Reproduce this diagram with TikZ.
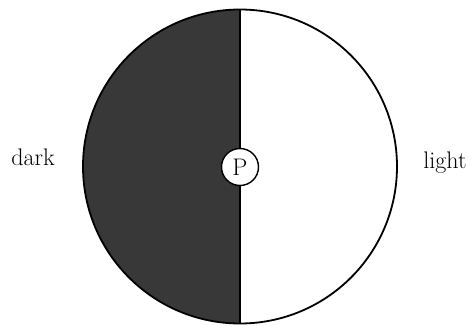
\documentclass[tikz,border=0pt]{standalone}
\usepackage{tikz}
\begin{document}
\begin{tikzpicture}[x=1pt,y=1pt]
\useasboundingbox (0,0) rectangle (475,325);
\coordinate (c) at (240,158.5);
% shaded half
\fill[black!78] (240,315.5) arc[start angle=90,end angle=270,radius=157] -- cycle;
\node[circle,draw=black,line width=1.8pt,minimum size=314pt,inner sep=0pt,outer sep=0pt] (disc) at (c) {};
\draw[line width=1.3pt] (disc.north)--(disc.south);
\node[circle,draw=black,line width=1.4pt,fill=white,minimum size=37pt,inner sep=0pt,font=\fontsize{24}{24}\selectfont] (p) at (240,158) {P};
\node[anchor=base,font=\fontsize{24}{28}\selectfont] (dark) at (33,160) {dark};
\node[anchor=base,font=\fontsize{24}{28}\selectfont] (light) at (445,157) {light};
\end{tikzpicture}
\end{document}
